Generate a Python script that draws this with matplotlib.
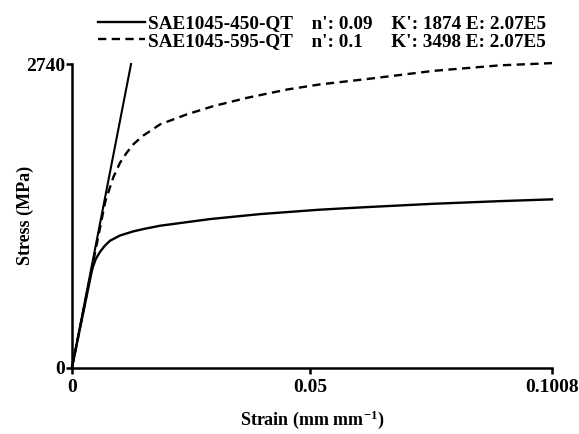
import matplotlib
matplotlib.use("Agg")
import matplotlib.pyplot as plt

plt.rcParams['font.family'] = ['Liberation Serif', 'DejaVu Serif']
plt.rcParams['font.weight'] = 'bold'
plt.rcParams['axes.labelweight'] = 'bold'
plt.rcParams['mathtext.fontset'] = 'custom'
plt.rcParams['mathtext.rm'] = 'Liberation Serif:bold'
plt.rcParams['mathtext.default'] = 'rm'

# curves (strain in mm/mm, stress in MPa)
strain_450 = [0, 0.0041, 0.0044, 0.0050, 0.0059, 0.0069, 0.0080, 0.0101,
              0.0128, 0.0150, 0.0185, 0.0290, 0.0395, 0.0521, 0.0619,
              0.0759, 0.0899, 0.1008]
stress_450 = [0, 860, 910, 980, 1045, 1100, 1145, 1192,
              1228, 1250, 1280, 1340, 1385, 1425, 1448,
              1478, 1502, 1518]

strain_595 = [0, 0.0070, 0.0087, 0.0101, 0.0115, 0.0130, 0.0150, 0.0185,
              0.0241, 0.0297, 0.0368, 0.0452, 0.0521, 0.0619, 0.0759,
              0.0899, 0.1008]
stress_595 = [0, 1500, 1720, 1850, 1940, 2020, 2095, 2195,
              2285, 2360, 2435, 2510, 2556, 2604, 2678,
              2728, 2748]

# elastic line
strain_el = [0, 0.0124]
stress_el = [0, 2740]

label_450 = "SAE1045-450-QT    n': 0.09    K': 1874 E: 2.07E5"
label_595 = "SAE1045-595-QT    n': 0.1      K': 3498 E: 2.07E5"

x_ticks = [0, 0.05, 0.1008]
x_tick_labels = ['0', '0.05', '0.1008']
y_ticks = [0, 2740]
y_tick_labels = ['0', '2740']

fig = plt.figure(figsize=(5.79, 4.34), dpi=100)
ax = fig.add_axes([72/579, 1-367.5/434, 480/579, 303.5/434])

l1, = ax.plot(strain_450, stress_450, color='black', lw=1.7, clip_on=False)
l2, = ax.plot(strain_595, stress_595, color='black', lw=1.7, ls=(0, (3.5, 2.3)),
              clip_on=False)
ax.plot(strain_el, stress_el, color='black', lw=1.5, clip_on=False)

ax.set_xlim(0, 0.1008)
ax.set_ylim(0, 2740)
ax.set_xticks(x_ticks)
ax.set_xticklabels(x_tick_labels)
ax.set_yticks(y_ticks)
ax.set_yticklabels(y_tick_labels)
ax.tick_params(direction='out', length=4, width=1.8, labelsize=14, pad=1)
ax.tick_params(axis='x', pad=4)

for s in ['top', 'right']:
    ax.spines[s].set_visible(False)
for s in ['left', 'bottom']:
    ax.spines[s].set_linewidth(1.8)

ax.set_xlabel('Strain (mm mm$^{-1}$)', fontsize=13, labelpad=9)
ax.set_ylabel('Stress (MPa)', fontsize=13, labelpad=-6)

fig.legend([l1, l2], [label_450, label_595], loc='upper left',
           bbox_to_anchor=(98/579, 1-15/434), frameon=False, fontsize=13.8,
           handlelength=2.45, handletextpad=0.16, labelspacing=0.0,
           borderpad=0, borderaxespad=0)

fig.savefig('out.png', dpi=100)
